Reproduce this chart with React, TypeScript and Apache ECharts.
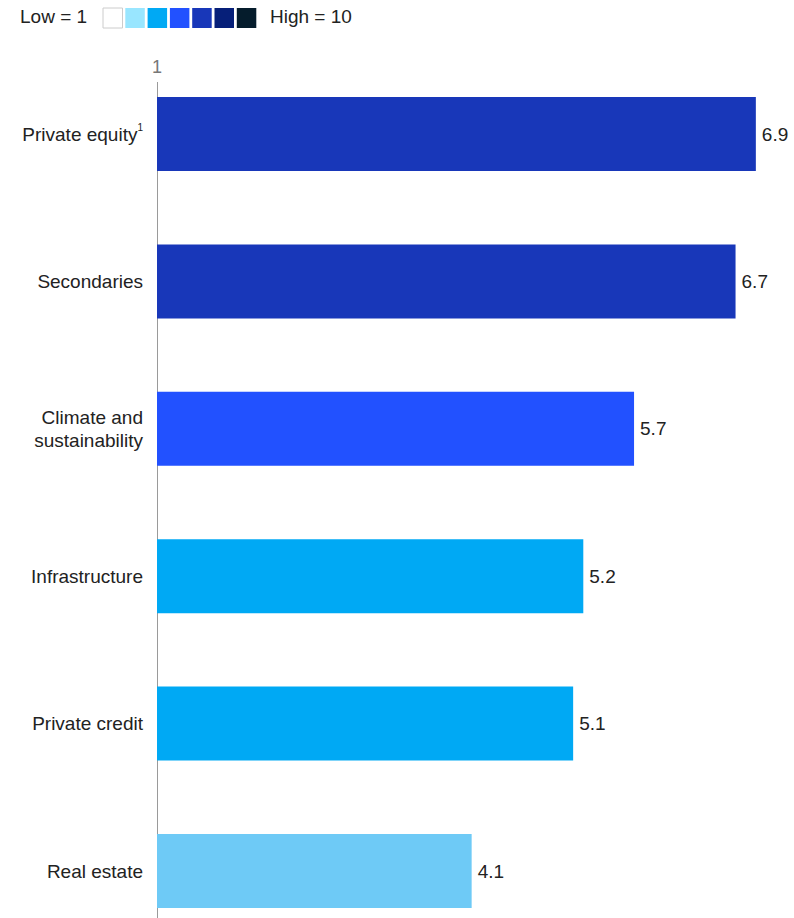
import React, { useEffect, useRef } from "react";
import * as echarts from "echarts";

const categories = ["Private equity", "Secondaries", "Climate and\nsustainability", "Infrastructure", "Private credit", "Real estate"];
const values = [6.9, 6.7, 5.7, 5.2, 5.1, 4.1];
const barColors = ["#1837B9", "#1837B9", "#2251FF", "#00A9F4", "#00A9F4", "#6ECAF6"];
const legendColors = ["#FFFFFF", "#99E6FF", "#00A9F4", "#2251FF", "#1837B9", "#061F79", "#051C2C"];
const legendLow = "Low = 1";
const legendHigh = "High = 10";
const axisMin = 1;
const axisMax = 7;

const FONT = "'Liberation Sans', Arial, Helvetica, sans-serif";
const FS = 19;

export default function App() {
  const ref = useRef<HTMLDivElement>(null);
  useEffect(() => {
    if (!ref.current) return;
    const chart = echarts.init(ref.current, undefined, { renderer: "svg" });
    const legendEls: any[] = [
      { type: "text", left: 20, top: 7, style: { text: legendLow, font: `${FS}px ${FONT}`, fill: "#222" } },
    ];
    legendColors.forEach((c, i) => {
      legendEls.push({
        type: "rect",
        shape: { x: 103 + i * 22.3, y: 8, width: 19.5, height: 20 },
        style: { fill: c, stroke: i === 0 ? "#CCCCCC" : "none", lineWidth: 1 },
      });
    });
    legendEls.push({ type: "text", left: 270, top: 7, style: { text: legendHigh, font: `${FS}px ${FONT}`, fill: "#222" } });
    legendEls.push({
      type: "line",
      shape: { x1: 157.5, y1: 82, x2: 157.5, y2: 918 },
      style: { stroke: "#9A9A9A", lineWidth: 1 },
    });
    chart.setOption({
      animation: false,
      grid: { left: 157, right: 28, top: 60.3, height: 884.4, containLabel: false },
      xAxis: {
        type: "value",
        position: "top",
        min: axisMin,
        max: axisMax,
        interval: 6,
        axisLine: { show: false },
        axisTick: { show: false },
        splitLine: { show: false },
        axisLabel: {
          margin: -16,
          color: "#777",
          fontSize: 18,
          fontFamily: FONT,
          formatter: (v: number) => (v === axisMin ? String(v) : ""),
        },
      },
      yAxis: {
        type: "category",
        inverse: true,
        data: categories,
        axisLine: { show: false },
        axisTick: { show: false },
        axisLabel: {
          margin: 14,
          color: "#222",
          fontSize: FS,
          fontFamily: FONT,
          lineHeight: 23,
          align: "right",
          formatter: (v: string) => (v === "Private equity" ? "{a|Private equity}{s|1}" : v),
          rich: {
            a: { fontSize: FS, fontFamily: FONT, color: "#222" },
            s: { fontSize: 10, fontFamily: FONT, color: "#222", verticalAlign: "top", padding: [0, 0, 8, 0] },
          },
        },
      },
      series: [
        {
          type: "bar",
          data: values.map((v, i) => ({ value: v, itemStyle: { color: barColors[i] } })),
          barWidth: 74,
          label: {
            show: true,
            position: "right",
            distance: 6,
            color: "#222",
            fontSize: FS,
            fontFamily: FONT,
            formatter: (p: any) => p.value.toFixed(1),
          },
        },
      ],
      graphic: legendEls,
    });
    return () => chart.dispose();
  }, []);
  return (
    <div style={{ position: "absolute", left: 0, top: 0, width: 794, height: 918, overflow: "hidden", background: "#fff" }}>
      <div ref={ref} style={{ position: "absolute", left: 0, top: 0, width: 794, height: 960 }} />
    </div>
  );
}
